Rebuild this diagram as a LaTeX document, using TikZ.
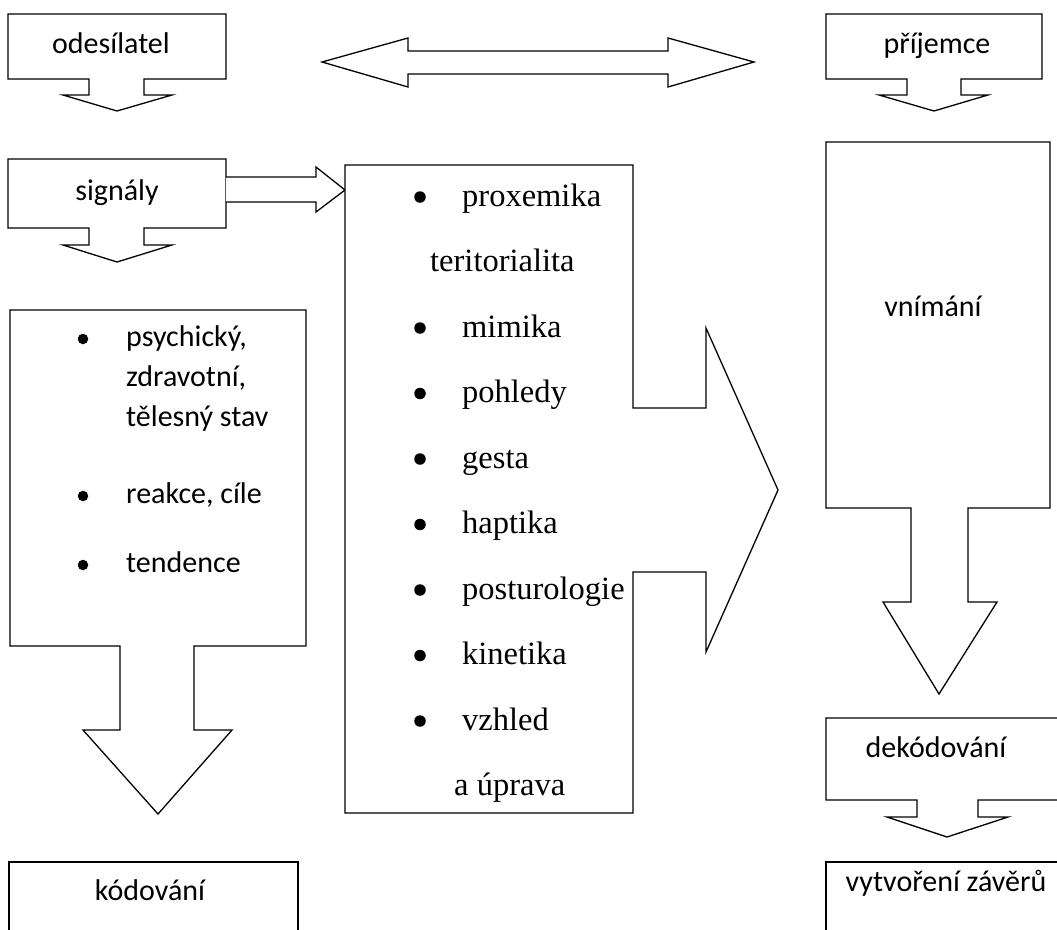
\documentclass[tikz,border=0pt]{standalone}
\usepackage{fontspec}
\setmainfont{Carlito}
\newfontfamily\tmsfont{Liberation Serif}
\begin{document}
\begin{tikzpicture}[x=1pt,y=-1pt,
  shp/.style={draw=black, line width=1.3pt, fill=white, line join=miter},
  cal/.style={font=\fontsize{30}{36}\selectfont, inner sep=0pt, anchor=base},
  calw/.style={font=\fontsize{30}{36}\selectfont, inner sep=0pt, anchor=base west},
  tms/.style={font=\tmsfont\fontsize{32.5}{38}\selectfont, inner sep=0pt, anchor=base west},
  bulc/.style={circle, fill=black, inner sep=0pt, minimum size=10.5pt},
  bult/.style={circle, fill=black, inner sep=0pt, minimum size=11.5pt}]
\useasboundingbox (0,0) rectangle (1057,929);
\clip (0,0) rectangle (1057,929);

% odesilatel callout
\draw[shp] (8,14) -- (226,14) -- (226,79) -- (144,79) -- (144,95) -- (172,95) -- (117,111)
  -- (63,95) -- (89,95) -- (89,79) -- (8,79) -- cycle;
\node[cal] (odes) at (111,53) {odesílatel};

% signaly callout
\draw[shp] (8,159) -- (226,159) -- (226,228) -- (144,228) -- (144,245) -- (172,245) -- (117,262)
  -- (63,245) -- (89,245) -- (89,228) -- (8,228) -- cycle;
\node[cal] (sig) at (117,200) {signály};

% arrow signaly -> middle box
\draw[shp] (226,177) -- (316,177) -- (316,167) -- (345,190) -- (316,212) -- (316,202) -- (226,202);

% double arrow
\draw[shp] (322,62) -- (408,38) -- (408,51) -- (668,51) -- (668,38) -- (754,62) -- (668,87)
  -- (668,74) -- (408,74) -- (408,87) -- cycle;

% prijemce callout
\draw[shp] (826,14) -- (1042,14) -- (1042,79) -- (961,79) -- (961,95) -- (988,95) -- (934,111)
  -- (879,95) -- (907,95) -- (907,79) -- (826,79) -- cycle;
\node[cal] (prij) at (937,53) {příjemce};

% vnimani callout
\draw[shp] (826,142) -- (1050,142) -- (1050,508) -- (968,508) -- (968,602) -- (997,602) -- (939,694)
  -- (883,602) -- (911,602) -- (911,508) -- (826,508) -- cycle;
\node[cal] (vnim) at (933,316) {vnímání};

% dekodovani callout
\draw[shp] (826,718) -- (1065,718) -- (1065,800) -- (978,800) -- (978,817) -- (1008,817) -- (947,837)
  -- (887,817) -- (917,817) -- (917,800) -- (826,800) -- cycle;
\node[cal] (dek) at (936,757) {dekódování};

% vytvoreni zaveru box
\draw[shp] (826,862) rectangle (1065,940);
\node[cal] (vyt) at (946,891) {vytvoření závěrů};

% left big callout
\draw[shp] (10,310) -- (306,310) -- (306,646) -- (194,646) -- (194,730) -- (232,730) -- (158,814)
  -- (83,730) -- (120,730) -- (120,646) -- (10,646) -- cycle;
\node[bulc] (b1) at (83,339) {};
\node[calw] (l1) at (126,346) {psychický,};
\node[calw] (l2) at (126,386) {zdravotní,};
\node[calw] (l3) at (126,426) {tělesný stav};
\node[bulc] (b2) at (83,496) {};
\node[calw] (l4) at (126,503) {reakce, cíle};
\node[bulc] (b3) at (83,565) {};
\node[calw] (l5) at (126,572) {tendence};

% kodovani box
\draw[shp] (9,862) rectangle (298,940);
\node[cal] (kod) at (150,900) {kódování};

% middle callout
\draw[shp] (345,165) -- (633,165) -- (633,408) -- (706,408) -- (706,328) -- (778,490) -- (706,652)
  -- (706,572) -- (633,572) -- (633,813) -- (345,813) -- cycle;
\node[bult] (m0b) at (420,197) {};
\node[tms] (m0) at (462,206) {proxemika};
\node[tms] (m1) at (430,271.5) {teritorialita};
\node[bult] (m2b) at (420,328) {};
\node[tms] (m2) at (462,337) {mimika};
\node[bult] (m3b) at (420,393.5) {};
\node[tms] (m3) at (462,402.5) {pohledy};
\node[bult] (m4b) at (420,459) {};
\node[tms] (m4) at (462,468) {gesta};
\node[bult] (m5b) at (420,524.5) {};
\node[tms] (m5) at (462,533.5) {haptika};
\node[bult] (m6b) at (420,590) {};
\node[tms] (m6) at (462,599) {posturologie};
\node[bult] (m7b) at (420,655.5) {};
\node[tms] (m7) at (462,664.5) {kinetika};
\node[bult] (m8b) at (420,721) {};
\node[tms] (m8) at (462,730) {vzhled};
\node[tms] (m9) at (454,795.5) {a úprava};
\end{tikzpicture}
\end{document}
